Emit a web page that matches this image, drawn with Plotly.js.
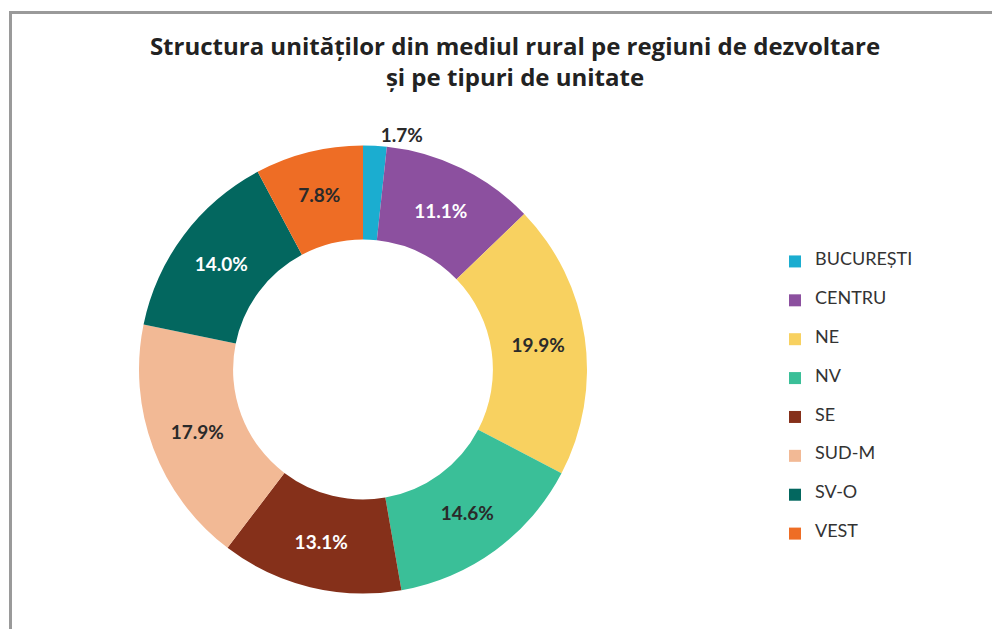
<!DOCTYPE html>
<html><head><meta charset="utf-8">
<script src="https://cdn.plot.ly/plotly-3.0.1.min.js"></script>
<style>
html,body{margin:0;padding:0;background:#fff;overflow:hidden;}
#wrap{position:relative;width:992px;height:629px;overflow:hidden;}
#chart{width:992px;height:629px;}
#frame{position:absolute;left:9px;top:11px;width:1000px;height:640px;border-left:3px solid #9a9a9a;border-top:3px solid #9a9a9a;pointer-events:none;}
</style></head>
<body><div id="wrap"><div id="chart"></div><div id="frame"></div></div>
<script>
const regions = ['BUCUREȘTI','CENTRU','NE','NV','SE','SUD-M','SV-O','VEST'];
const shares = [1.7, 11.1, 19.9, 14.6, 13.1, 17.9, 14.0, 7.8];
const sliceColors = ['#1badd0','#8c509f','#f8d160','#3abf98','#85301a','#f2b995','#03675f','#ee6d25'];
const labelColors = ['#2a2a2a','#ffffff','#2a2a2a','#2a2a2a','#ffffff','#2a2a2a','#ffffff','#2a2a2a'];
const labelPositions = ['outside','inside','inside','inside','inside','inside','inside','inside'];

const legendLabels = regions.map(r => '\u00a0<br><span style="font-size:18px">' + r + '</span><br>\u00a0');

const trace = {
  type: 'pie',
  labels: legendLabels,
  values: shares,
  sort: false,
  direction: 'clockwise',
  rotation: 0,
  hole: 0.58,
  marker: {colors: sliceColors, line: {width: 0}},
  textinfo: 'none',
  texttemplate: '%{value:.1f}%',
  textposition: labelPositions,
  insidetextorientation: 'horizontal',
  textfont: {family: 'Lato', size: 19, weight: 700, color: labelColors},
  outsidetextfont: {family: 'Lato', size: 19, weight: 700, color: '#2a2a2a'},
  domain: {x: [139/992, 587/992], y: [1 - 594/629, 1 - 145/629]},
  hoverinfo: 'none'
};

const layout = {
  width: 992, height: 629,
  margin: {l: 0, r: 0, t: 0, b: 0},
  paper_bgcolor: '#ffffff',
  title: {
    text: 'Structura unităților din mediul rural pe regiuni de dezvoltare<br>și pe tipuri de unitate',
    font: {family: 'Open Sans', size: 24, weight: 700, color: '#222222'},
    x: 515/992, xanchor: 'center', xref: 'paper',
    y: 1 - 55/629, yanchor: 'top', yref: 'container'
  },
  showlegend: true,
  legend: {
    x: 775/992, xanchor: 'left',
    y: 1 - 398/629, yanchor: 'middle',
    font: {family: 'Lato', size: 9.2, color: '#333333'},
    bgcolor: 'rgba(0,0,0,0)',
    valign: 'middle'
  }
};

Plotly.newPlot('chart', [trace], layout, {displayModeBar: false, staticPlot: true});
</script>
</body></html>
